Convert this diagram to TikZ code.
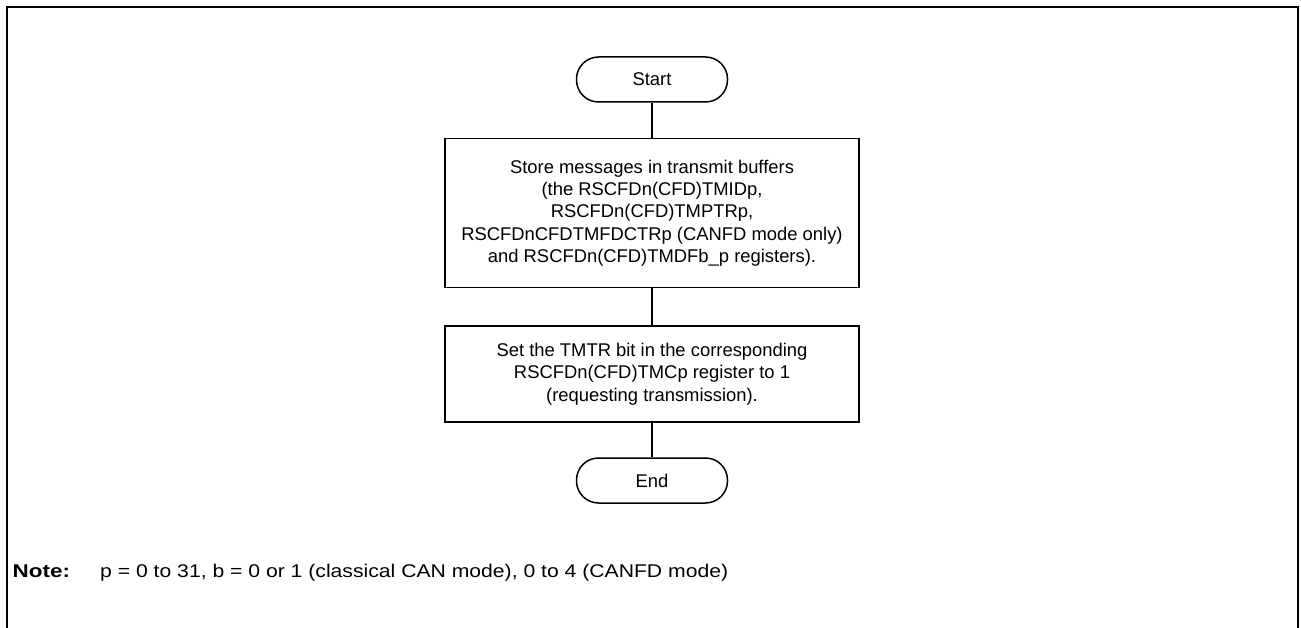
\documentclass[tikz,border=0pt]{standalone}
\usepackage{fontspec}
\setmainfont{Liberation Sans}
\begin{document}
\begin{tikzpicture}[x=1pt,y=-1pt,
  every node/.style={font=\fontsize{18.4}{22.3}\selectfont},
  term/.style={draw,line width=1.5pt,rounded corners=22pt,minimum width=151pt,minimum height=45pt,inner sep=0pt},
  proc/.style={draw,line width=1.8pt,minimum width=414pt,inner sep=0pt,align=center},
  conn/.style={line width=1.2pt},
  frame/.style={line width=2pt}]
\useasboundingbox (0,0) rectangle (1301,628);
\draw[frame] (6.5,640) -- (6.5,7) -- (1298,7) -- (1298,640);
\node[term] (start) at (652,79.5) {Start};
\node[proc,minimum height=149pt] (b1) at (652,213) {Store messages in transmit buffers\\(the RSCFDn(CFD)TMIDp,\\RSCFDn(CFD)TMPTRp,\\RSCFDnCFDTMFDCTRp (CANFD mode only)\\and RSCFDn(CFD)TMDFb\_p registers).};
\node[proc,minimum height=96pt] (b2) at (652,374) {Set the TMTR bit in the corresponding\\RSCFDn(CFD)TMCp register to 1\\(requesting transmission).};
\node[term] (fin) at (652,480.5) {End};
\draw[conn] (start) -- (b1);
\draw[conn] (b1) -- (b2);
\draw[conn] (b2) -- (fin);
\node[anchor=base west,inner sep=0pt,font=\fontsize{18.4}{22}\selectfont\bfseries] (notelbl) at (12.5,577) {\scalebox{1.22}[1]{Note:}};
\node[anchor=base west,inner sep=0pt] (notetxt) at (100,577) {\scalebox{1.15}[1]{p = 0 to 31, b = 0 or 1 (classical CAN mode), 0 to 4 (CANFD mode)}};
\end{tikzpicture}
\end{document}
